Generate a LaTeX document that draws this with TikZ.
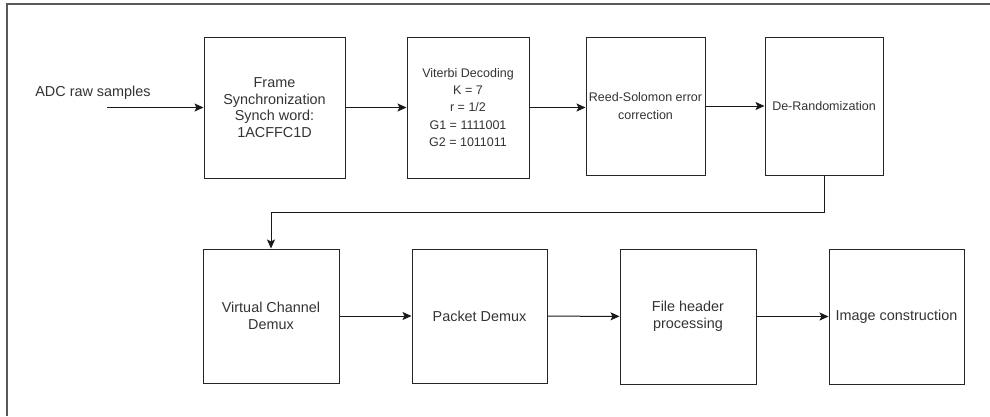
\documentclass[tikz,border=0pt]{standalone}
\usepackage{fontspec}
\setmainfont{Liberation Sans}
\usetikzlibrary{arrows.meta}

\begin{document}
\begin{tikzpicture}[x=1pt,y=-1pt,
    blk/.style={draw=black!85,line width=1pt,inner sep=0pt,align=center,
      text=black!80,font=\fontsize{14.4}{16.7}\selectfont},
    smallblk/.style={blk,font=\fontsize{12.5}{17.2}\selectfont},
    arr/.style={draw=black!90,line width=1pt,-{Stealth[length=9pt,width=8pt,inset=2pt]}}]
    \useasboundingbox (0,0) rectangle (990,416);
    % frame of the page, cut off at right and bottom
    \draw[black!65,line width=1.5pt] (7,416) -- (7,4) -- (990,4);
    % top row
    \node[blk,minimum width=141pt,minimum height=141pt] (frame) at (274.5,107.5) {Frame\\Synchronization\\Synch word:\\1ACFFC1D};
    \node[smallblk,minimum width=122pt,minimum height=141pt] (viterbi) at (468,107.5) {Viterbi Decoding\\K = 7\\r = 1/2\\G1 = 1111001\\G2 = 1011011};
    \node[smallblk,minimum width=119pt,minimum height=138pt] (rs) at (645.5,106) {Reed-Solomon error\\correction};
    \node[smallblk,minimum width=118pt,minimum height=138pt] (derand) at (824,106) {De-Randomization};
    % bottom row
    \node[blk,minimum width=136pt,minimum height=134pt] (vcdemux) at (271,316) {Virtual Channel\\Demux};
    \node[blk,minimum width=135pt,minimum height=134pt] (pktdemux) at (479.5,316) {Packet Demux};
    \node[blk,minimum width=136pt,minimum height=135pt] (fileheader) at (688,316.5) {File header\\processing};
    \node[blk,minimum width=135pt,minimum height=135pt] (imgbuild) at (896.5,316.5) {Image construction};
    % input
    \node[text=black!80,font=\fontsize{14.4}{16.7}\selectfont] (adc) at (93,93) {ADC raw samples};
    \coordinate (adcin) at (107,107.5);
    \coordinate (bend) at (824,212);
    \draw[arr] (adcin) -- (frame.west);
    \draw[arr] (frame) -- (viterbi);
    \draw[arr] (viterbi.east) -- (rs.west |- viterbi.east);
    \draw[arr] (rs) -- (derand);
    \draw[arr] (derand.south) -- (bend) -| (vcdemux.north);
    \draw[arr] (vcdemux) -- (pktdemux);
    \draw[arr] (pktdemux) -- (fileheader);
    \draw[arr] (fileheader) -- (imgbuild);
\end{tikzpicture}
\end{document}
